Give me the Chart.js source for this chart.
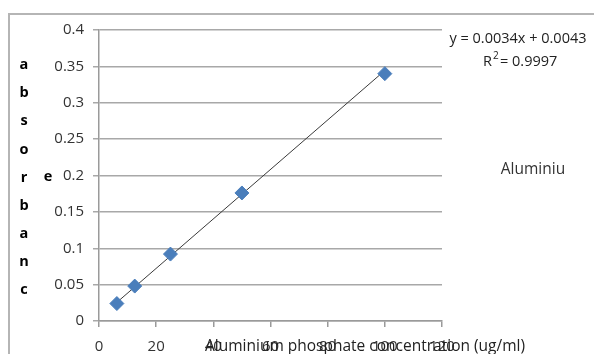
<!DOCTYPE html>
<html>
<head>
<meta charset="utf-8">
<script src="https://cdn.jsdelivr.net/npm/chart.js@4"></script>
<style>
  body { margin: 0; background: #fff; }
  #wrap { position: relative; width: 594px; height: 354px; overflow: hidden; }
  #frame { position: absolute; left: 8px; top: 13px; width: 700px; height: 400px;
           border-left: 2px solid #b5b5b5; border-top: 2px solid #b5b5b5; }
  canvas { position: absolute; left: 0; top: 0; }
</style>
</head>
<body>
<div id="wrap">
  <div id="frame"></div>
  <canvas id="graph" width="594" height="354"></canvas>
</div>
<script>
// standard curve data
const concentrations = [6.25, 12.5, 25, 50, 100];
const absorbance = [0.024, 0.048, 0.092, 0.176, 0.340];
const trendX = [6.25, 100];
const trendY = [0.0256, 0.3443];
const equationText = "y = 0.0034x + 0.0043";
const r2Text = "= 0.9997";
const legendText = "Aluminiu";
const xTitle = "Aluminium phosphate concentration (ug/ml)";
const yTitleLetters = ["a", "b", "s", "o", "r", "b", "a", "n", "c"];

const font = "'Open Sans', 'Liberation Sans', sans-serif";

const textPlugin = {
    id: 'extraText',
    afterDraw(chart) {
        const ctx = chart.ctx;
        ctx.save();
        ctx.textBaseline = 'middle';

        // y title as stacked letters
        ctx.fillStyle = '#000';
        ctx.font = "bold 14.5px " + font;
        ctx.textAlign = 'center';
        const step = (291 - 66) / (yTitleLetters.length - 1);
        yTitleLetters.forEach((ch, i) => {
            ctx.fillText(ch, 24, 65 + i * step);
        });
        ctx.fillText("e", 48, 177);

        // x title overlapping the tick labels
        ctx.fillStyle = '#222';
        ctx.font = "15.5px " + font;
        ctx.fillText(xTitle, 365, 347);

        // trendline equation
        ctx.fillStyle = '#222';
        ctx.font = "14.5px " + font;
        ctx.fillText(equationText, 518, 39);
        ctx.textAlign = 'left';
        ctx.fillText("R", 483, 62);
        ctx.font = "10px " + font;
        ctx.fillText("2", 493, 56);
        ctx.font = "14.5px " + font;
        ctx.fillText(r2Text, 500, 62);

        // cut legend
        ctx.textAlign = 'center';
        ctx.font = "15.5px " + font;
        ctx.fillStyle = '#333';
        ctx.fillText(legendText, 533, 170);
        ctx.restore();
    }
};

new Chart(document.getElementById('graph'), {
    type: 'scatter',
    data: {
        datasets: [{
            label: 'Aluminium',
            data: concentrations.map((x, i) => ({ x: x, y: absorbance[i] })),
            pointStyle: 'rectRot',
            pointRadius: 7,
            pointBackgroundColor: '#4a7ebb',
            pointBorderColor: '#4a7ebb',
            order: 1
        }, {
            label: 'Linear',
            type: 'line',
            data: trendX.map((x, i) => ({ x: x, y: trendY[i] })),
            borderColor: '#3a3a3a',
            borderWidth: 1,
            pointRadius: 0,
            order: 2
        }]
    },
    options: {
        responsive: false,
        animation: false,
        layout: { padding: { left: 0, top: 30, right: 152, bottom: 0 } },
        plugins: {
            legend: { display: false },
            tooltip: { enabled: false }
        },
        scales: {
            x: {
                type: 'linear',
                min: 0,
                max: 120,
                afterFit(scale) { scale.height = 33; },
                ticks: {
                    stepSize: 20,
                    padding: 11,
                    color: '#333',
                    font: { family: font, size: 15 }
                },
                grid: {
                    drawOnChartArea: false,
                    color: '#9a9a9a',
                    lineWidth: 1.5,
                    tickLength: 6
                },
                border: { color: '#9a9a9a', width: 1.5 }
            },
            y: {
                min: 0,
                max: 0.4,
                afterFit(scale) { scale.width = 99; },
                ticks: {
                    stepSize: 0.05,
                    padding: 9,
                    color: '#333',
                    font: { family: font, size: 15 },
                    callback: v => String(Number(v.toFixed(2)))
                },
                grid: {
                    color: '#a8a8a8',
                    lineWidth: 1.5,
                    tickLength: 6
                },
                border: { color: '#9a9a9a', width: 1.5 }
            }
        }
    },
    plugins: [textPlugin]
});
</script>
</body>
</html>
